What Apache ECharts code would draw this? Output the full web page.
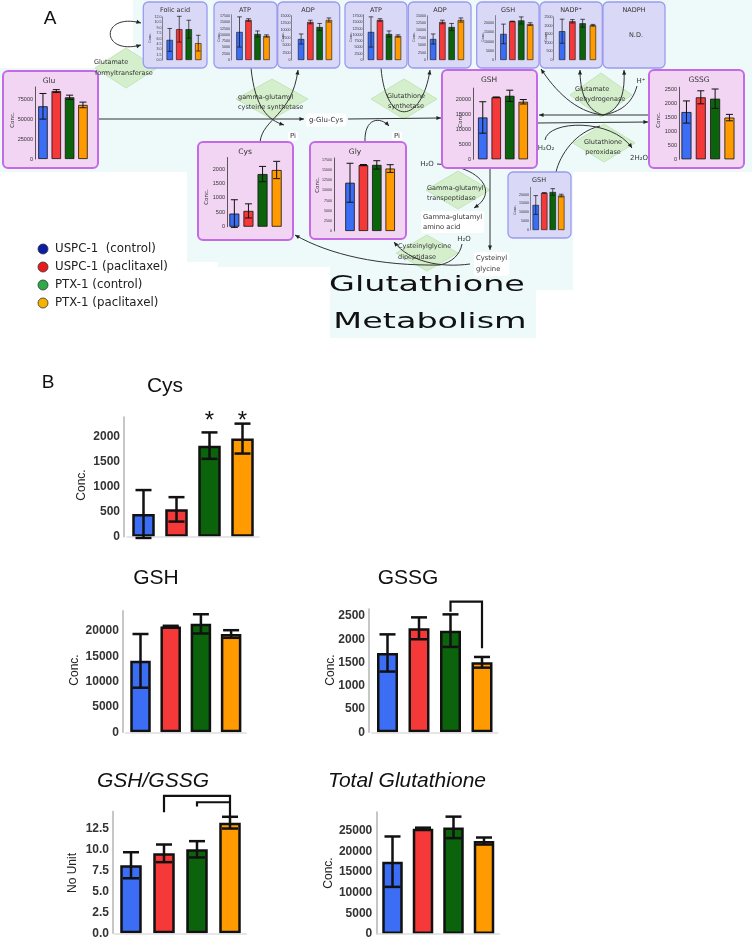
<!DOCTYPE html>
<html><head><meta charset="utf-8">
<script src="https://cdn.jsdelivr.net/npm/echarts@6/dist/echarts.min.js"></script>
<style>html,body{margin:0;padding:0;background:#fff}#c{width:752px;height:939px}</style>
</head><body><div id="c"></div>
<script>
// ---------- data ----------
const groups = ['USPC-1  (control)', 'USPC-1 (paclitaxel)', 'PTX-1 (control)', 'PTX-1 (paclitaxel)'];
const cysMean = [455, 548, 1826, 1967];
const cysSd = [480, 245, 265, 300];
const gshMean = [14100, 20900, 21400, 19400];
const gshSd = [5300, 120, 1900, 750];
const gssgMean = [1705, 2235, 2185, 1504];
const gssgSd = [400, 235, 350, 115];
const ratioMean = [8.1, 9.52, 10.0, 13.17];
const ratioSd = [1.55, 1.05, 0.97, 0.7];
const totalMean = [17500, 25480, 25800, 22500];
const totalSd = [6100, 250, 2600, 850];
const gluMean = [65900, 84900, 77100, 67600];
const gluSd = [16000, 1800, 2700, 3500];
const glyMean = [11900, 16250, 16300, 15400];
const glySd = [4800, 150, 1030, 950];
const folicMean = [5.6, 8.6, 8.6, 4.7];
const folicSd = [3.2, 3.6, 2.5, 2.2];
const atpMean = [11140, 15900, 10340, 9545];
const atpSd = [6000, 500, 1200, 450];
const adpMean = [7110, 12870, 11170, 13540];
const adpSd = [1700, 600, 1200, 700];
const nadpMean = [1674, 2250, 2136, 2020];
const nadpSd = [700, 100, 230, 50];
const gssgBrackets = [[2, 2593, 2808, 3, 1805]];
const ratioBrackets = [[1, 14.4, 16.35, 3, 13.9], [2, 15.1, 15.6, 3, 15.6]];
const cysStarIdx = [2, 3];
const cysStarLevel = 2440;

const barColors = ['#3b6ef5', '#f53838', '#0b630b', '#ff9b00'];
const legendColors = ['#0c1ca6', '#e81c1c', '#2eaa48', '#f5b300'];

// ---------- chart builder ----------
const grids = [], xAxes = [], yAxes = [], series = [];
function errRender(cap, lw) {
  return function (params, api) {
    const i = api.value(0);
    const t = api.coord([i, api.value(2)]);
    const b = api.coord([i, api.value(1)]);
    const st = () => ({ stroke: '#111', lineWidth: lw });
    return { type: 'group', children: [
      { type: 'line', shape: { x1: t[0], y1: t[1], x2: b[0], y2: b[1] }, style: st() },
      { type: 'line', shape: { x1: t[0] - cap, y1: t[1], x2: t[0] + cap, y2: t[1] }, style: st() },
      { type: 'line', shape: { x1: b[0] - cap, y1: b[1], x2: b[0] + cap, y2: b[1] }, style: st() }
    ] };
  };
}
const kinds = {
  pink: { fs: 5.5, bold: false, axisColor: '#333', axisWidth: 0.8, margin: 2, bw: 0.8, cap: 3.5, elw: 1, barW: 9.5, xLine: false, ff: 'Liberation Sans' },
  lav: { fs: 3.6, bold: false, axisColor: '#444', axisWidth: 0.6, margin: 1, bw: 0.6, cap: 2.3, elw: 0.7, barW: 6.4, xLine: false, ff: 'Liberation Sans' },
  big: { fs: 12, bold: true, axisColor: '#b5b5b5', axisWidth: 1.5, margin: 4, bw: 2.5, cap: 8, elw: 2.5, barW: 21, xLine: true, ff: 'Liberation Sans' }
};
function addChart(c) {
  const k = kinds[c.kind];
  const gi = grids.length;
  grids.push({ left: c.left, top: c.top, width: c.width, height: c.height, containLabel: false, outerBoundsMode: 'none' });
  xAxes.push({ type: 'category', gridIndex: gi, data: groups, z: 3,
    axisLine: { show: k.xLine, lineStyle: { color: '#dedede', width: 1.5 } },
    axisTick: { show: false }, axisLabel: { show: false }, splitLine: { show: false } });
  const showMax = Math.abs(c.max / c.interval - Math.round(c.max / c.interval)) < 1e-9;
  yAxes.push({ type: 'value', gridIndex: gi, min: 0, max: c.max, interval: c.interval, offset: c.offset || 0, z: 3,
    splitLine: { show: false }, axisTick: { show: false },
    axisLine: { show: true, lineStyle: { color: k.axisColor, width: k.axisWidth } },
    axisLabel: { fontSize: c.fs || k.fs, fontWeight: k.bold ? 'bold' : 'normal', color: '#333', fontFamily: k.ff,
      margin: k.margin, showMaxLabel: showMax, showMinLabel: true, hideOverlap: false,
      formatter: c.dec ? (v) => v.toFixed(c.dec) : (v) => String(v) } });
  series.push({ type: 'bar', xAxisIndex: gi, yAxisIndex: gi, barWidth: c.barW || k.barW, z: 2,
    data: c.mean.map((v, i) => ({ value: v, itemStyle: { color: barColors[i] } })),
    itemStyle: { borderColor: '#111', borderWidth: k.bw } });
  series.push({ type: 'custom', xAxisIndex: gi, yAxisIndex: gi, z: 4, clip: false,
    encode: { x: 0, y: [1, 2] },
    data: c.mean.map((v, i) => [i, v - c.sd[i], v + c.sd[i]]),
    renderItem: errRender(k.cap, k.elw) });
  return gi;
}
function addBrackets(gi, data, lw) {
  series.push({ type: 'custom', xAxisIndex: gi, yAxisIndex: gi, z: 4, clip: false,
    encode: { x: 0, y: 1 }, data: data,
    renderItem: (p, api) => {
      const a = api.coord([api.value(0), api.value(1)]);
      const b = api.coord([api.value(0), api.value(2)]);
      const c = api.coord([api.value(3), api.value(2)]);
      const d = api.coord([api.value(3), api.value(4)]);
      return { type: 'polyline', shape: { points: [a, b, c, d] }, style: { stroke: '#111', lineWidth: lw, fill: 'none' } };
    } });
}

// panel A - pink
addChart({ kind: 'pink', mean: gluMean, sd: gluSd, left: 36.3, top: 87, width: 53.3, height: 72, max: 90000, interval: 25000, offset: 1.3 });
addChart({ kind: 'pink', mean: cysMean, sd: cysSd, left: 227.3, top: 157.5, width: 56.4, height: 69.2, max: 2400, interval: 500, offset: 0.3, barW: 10 });
addChart({ kind: 'pink', mean: glyMean, sd: glySd, left: 343.3, top: 158, width: 53.6, height: 73, max: 18000, interval: 2500, offset: 9.3, fs: 3.6 });
addChart({ kind: 'pink', mean: gshMean, sd: gshSd, left: 476, top: 88.1, width: 54, height: 71.2, max: 24000, interval: 5000, offset: 3 });
addChart({ kind: 'pink', mean: gssgMean, sd: gssgSd, left: 679.3, top: 87.2, width: 57.3, height: 72.1, max: 2600, interval: 500, offset: 0.3, barW: 10 });
// panel A - lavender
addChart({ kind: 'lav', mean: folicMean, sd: folicSd, left: 165, top: 17, width: 38, height: 43, max: 12, interval: 1.5, offset: 2.5, dec: 1 });
addChart({ kind: 'lav', mean: atpMean, sd: atpSd, left: 235, top: 14.7, width: 36, height: 45.3, max: 18000, interval: 2500, offset: 4 });
addChart({ kind: 'lav', mean: adpMean, sd: adpSd, left: 296.5, top: 15.7, width: 37, height: 44.3, max: 15000, interval: 2500, offset: 5 });
addChart({ kind: 'lav', mean: atpMean, sd: atpSd, left: 366.5, top: 14.7, width: 36, height: 45.3, max: 18000, interval: 2500, offset: 3 });
addChart({ kind: 'lav', mean: adpMean, sd: adpSd, left: 428.5, top: 15.7, width: 37, height: 44.3, max: 15000, interval: 2500, offset: 1.5 });
addChart({ kind: 'lav', mean: gshMean, sd: gshSd, left: 499, top: 15.6, width: 35.6, height: 44.4, max: 24000, interval: 5000, offset: 4 });
addChart({ kind: 'lav', mean: nadpMean, sd: nadpSd, left: 557, top: 17, width: 41, height: 43, max: 2500, interval: 500, offset: 3.5 });
addChart({ kind: 'lav', mean: gshMean, sd: gshSd, left: 531.5, top: 187.4, width: 34, height: 42.6, max: 24000, interval: 5000, offset: 1.5 });
// panel B
const gCys = addChart({ kind: 'big', mean: cysMean, sd: cysSd, left: 127, top: 417, width: 132, height: 119.7, max: 2400, interval: 500, offset: 3, barW: 22.5 });
addChart({ kind: 'big', mean: gshMean, sd: gshSd, left: 125.4, top: 610.7, width: 120.8, height: 121.6, max: 24000, interval: 5000, offset: 2.5, barW: 20.5 });
const gGssg = addChart({ kind: 'big', mean: gssgMean, sd: gssgSd, left: 371.75, top: 609, width: 126, height: 123.3, max: 2650, interval: 500, offset: 2.75, barW: 21 });
const gRatio = addChart({ kind: 'big', mean: ratioMean, sd: ratioSd, left: 114.5, top: 811.5, width: 132, height: 121.8, max: 14.5, interval: 2.5, offset: 1.5, barW: 21.5, dec: 1 });
addChart({ kind: 'big', mean: totalMean, sd: totalSd, left: 377.25, top: 812.1, width: 122, height: 121.9, max: 29500, interval: 5000, offset: 1, barW: 20.5 });
addBrackets(gGssg, gssgBrackets, 2.2);
addBrackets(gRatio, ratioBrackets, 2.2);
series.push({ type: 'custom', xAxisIndex: gCys, yAxisIndex: gCys, z: 4, clip: false,
  encode: { x: 0, y: 1 }, data: cysStarIdx.map(i => [i, cysStarLevel]),
  renderItem: (p, api) => {
    const pt = api.coord([api.value(0), api.value(1)]);
    return { type: 'text', x: pt[0], y: pt[1] + 6, style: { text: '*', fontSize: 24, fontFamily: 'Liberation Sans', fill: '#111', align: 'center', verticalAlign: 'middle' } };
  } });

// ---------- diagram graphics ----------
const BG = '#eefafa';
const G = [];
G.push({ type: 'rect', z: 0, shape: { x: 133, y: 0, width: 619, height: 70 }, style: { fill: BG } });
G.push({ type: 'rect', z: 0, shape: { x: 0, y: 68, width: 752, height: 104 }, style: { fill: BG } });
G.push({ type: 'polygon', z: 0, shape: { points: [[187, 172], [573, 172], [573, 290], [536, 290], [536, 338], [330, 338], [330, 267], [218, 267], [218, 262], [187, 262]] }, style: { fill: BG } });

function diamond(cx, cy, w, h) {
  return { type: 'polygon', z: 0.5, shape: { points: [[cx, cy - h / 2], [cx + w / 2, cy], [cx, cy + h / 2], [cx - w / 2, cy]] }, style: { fill: '#d5efcd', stroke: '#c3e6b9', lineWidth: 1 } };
}
G.push(diamond(126, 68, 62, 40), diamond(272, 99, 72, 40), diamond(404, 99, 66, 40), diamond(601, 95, 62, 44),
  diamond(604, 143, 62, 38), diamond(458, 190, 64, 38), diamond(427, 253, 62, 36));

function head(x, y, ang, s) {
  s = s || 5;
  const a1 = ang + Math.PI - 0.42, a2 = ang + Math.PI + 0.42;
  return { type: 'polygon', z: 1, shape: { points: [[x, y], [x + s * Math.cos(a1), y + s * Math.sin(a1)], [x + s * Math.cos(a2), y + s * Math.sin(a2)]] }, style: { fill: '#222' } };
}
function curve(x1, y1, c1x, c1y, c2x, c2y, x2, y2, arrowEnd, arrowStart) {
  G.push({ type: 'bezierCurve', z: 1, shape: { x1: x1, y1: y1, cpx1: c1x, cpy1: c1y, cpx2: c2x, cpy2: c2y, x2: x2, y2: y2 }, style: { stroke: '#333', lineWidth: 1, fill: 'none' } });
  if (arrowEnd) G.push(head(x2, y2, Math.atan2(y2 - c2y, x2 - c2x)));
  if (arrowStart) G.push(head(x1, y1, Math.atan2(y1 - c1y, x1 - c1x)));
}
function seg(x1, y1, x2, y2, arrow) {
  G.push({ type: 'line', z: 1, shape: { x1: x1, y1: y1, x2: x2, y2: y2 }, style: { stroke: '#333', lineWidth: 1 } });
  if (arrow) G.push(head(x2, y2, Math.atan2(y2 - y1, x2 - x1)));
}
curve(141, 23, 100, 12, 100, 56, 141, 45, true, true);
seg(98, 119, 304, 119, true);
seg(348, 119, 441, 118, true);
curve(251, 68, 255, 108, 268, 120, 284, 125, true);
curve(260, 142, 263, 118, 292, 116, 298, 70, true);
curve(381, 68, 386, 128, 422, 124, 430, 70, true);
curve(365, 142, 364, 118, 380, 116, 389, 126, true);
seg(649, 115, 539, 115, true);
seg(537, 123, 648, 122, true);
curve(603, 115, 575, 112, 555, 90, 541, 69, true);
curve(603, 115, 585, 110, 580, 90, 580, 70, true);
curve(603, 115, 622, 110, 625, 90, 624, 70, true);
curve(637, 86, 632, 104, 620, 112, 603, 115, false);
curve(545, 140, 548, 120, 612, 118, 632, 148, true);
curve(556, 172, 560, 155, 575, 132, 600, 126, false);
seg(490, 168, 490, 250, true);
curve(437, 164, 480, 166, 500, 192, 474, 208, true);
curve(470, 264, 440, 268, 410, 262, 394, 242, true);
curve(440, 265, 380, 266, 330, 255, 295, 235, true);
curve(462, 244, 460, 255, 452, 262, 440, 265, false);

function box(x, y, w, h, kind) {
  return { type: 'rect', z: 1.5, shape: { x: x, y: y, width: w, height: h, r: 5 },
    style: kind === 'pink' ? { fill: '#f2d5f2', stroke: '#c46ae6', lineWidth: 2 } : { fill: '#d9d9f7', stroke: '#9a9af0', lineWidth: 1.3 } };
}
G.push(box(3, 71, 95, 97, 'pink'), box(198, 142, 95, 98, 'pink'), box(310, 142, 96, 97, 'pink'),
  box(442, 70, 95, 98, 'pink'), box(649, 70, 95, 98, 'pink'));
G.push(box(143.3, 2, 63.7, 66), box(214, 2, 63, 66), box(277.7, 2, 62, 66), box(345, 2, 62, 66),
  box(408.3, 2, 62.7, 66), box(476.7, 2, 62.3, 66), box(540, 2, 62.3, 66), box(603, 2, 62, 66), box(508, 172, 63, 66));

function txt(x, y, text, o) {
  o = o || {};
  const st = { text: text, fontSize: o.fs || 6.5, fontFamily: o.ff || 'DejaVu Sans', fontStyle: o.it ? 'italic' : 'normal',
    fontWeight: o.fw || 'normal', fill: o.c || '#333', align: o.al || 'center', verticalAlign: o.va || 'middle' };
  if (o.lh) st.lineHeight = o.lh;
  if (o.bg) { st.backgroundColor = o.bg; st.padding = o.pad || [1, 2]; st.borderRadius = 3; }
  const el = { type: 'text', z: 5, x: x, y: y, style: st };
  if (o.rot) el.rotation = o.rot;
  if (o.sx) el.scaleX = o.sx;
  G.push(el);
}
const R90 = Math.PI / 2;
// panel letters
txt(50, 19, 'A', { fs: 19, ff: 'Liberation Sans', c: '#111' });
txt(48, 383, 'B', { fs: 19, ff: 'Liberation Sans', c: '#111' });
// box titles
[[49, 81, 'Glu'], [245, 152, 'Cys'], [355, 152, 'Gly'], [489, 80, 'GSH'], [699, 80, 'GSSG']].forEach(a => txt(a[0], a[1], a[2], { fs: 7.5 }));
[[175, 10, 'Folic acid'], [245, 10, 'ATP'], [308, 10, 'ADP'], [376, 10, 'ATP'], [440, 10, 'ADP'], [508, 10, 'GSH'], [571, 10, 'NADP⁺'], [634, 10, 'NADPH'], [539, 180, 'GSH']]
  .forEach(a => txt(a[0], a[1], a[2], { fs: 6.5 }));
txt(636, 35, 'N.D.', { fs: 6.5 });
// Conc. labels in boxes
[[13, 120], [207, 197], [318, 185], [461, 120], [659, 120]].forEach(a => txt(a[0], a[1], 'Conc.', { fs: 5.5, rot: R90 }));
[[150, 38], [219, 37], [283, 37], [351, 37], [414, 37], [483, 37], [546, 37], [515, 210]].forEach(a => txt(a[0], a[1], 'Conc.', { fs: 3.5, rot: R90 }));
// enzyme texts
txt(94, 62, 'Glutamate', { al: 'left' }); txt(95, 73, 'formyltransferase', { al: 'left' });
txt(238, 97, 'gamma-glutamyl', { al: 'left' }); txt(238, 107, 'cysteine synthetase', { al: 'left' });
txt(406, 96, 'Glutathione'); txt(406, 106, 'synthetase');
txt(575, 89, 'Glutamate', { al: 'left' }); txt(575, 99, 'dehydrogenase', { al: 'left' });
txt(603, 142, 'Glutathione'); txt(603, 152, 'peroxidase');
txt(427, 188, 'Gamma-glutamyl', { al: 'left' }); txt(427, 198, 'transpeptidase', { al: 'left' });
txt(398, 246, 'Cysteinylglycine', { al: 'left' }); txt(398, 257, 'dipeptidase', { al: 'left' });
// metabolite labels
txt(326, 120, 'g-Glu-Cys', { fs: 7, bg: '#fff', pad: [3, 3] });
txt(293, 136, 'Pi', { fs: 7, bg: '#fff' });
txt(397, 136, 'Pi', { fs: 7, bg: '#fff' });
txt(641, 81, 'H⁺', { fs: 7 });
txt(546, 148, 'H₂O₂', { fs: 7 });
txt(639, 158, '2H₂O', { fs: 7 });
txt(427, 164, 'H₂O', { fs: 7 });
txt(464, 239, 'H₂O', { fs: 7 });
txt(421, 222, 'Gamma-glutamyl\namino acid', { fs: 6.8, al: 'left', lh: 10, bg: '#fff' });
txt(474, 264, 'Cysteinyl\nglycine', { fs: 6.8, al: 'left', lh: 11, bg: '#fff' });
// big title
txt(427, 285, 'Glutathione', { fs: 22, c: '#111', sx: 1.52 });
txt(430, 322, 'Metabolism', { fs: 22, c: '#111', sx: 1.52 });
// legend
groups.forEach((name, i) => {
  const y = 249 + i * 18;
  G.push({ type: 'circle', z: 5, shape: { cx: 43, cy: y, r: 5 }, style: { fill: legendColors[i], stroke: '#333', lineWidth: 0.8 } });
  txt(55, y, name, { fs: 11.8, al: 'left', c: '#222' });
});
// panel B titles and axis names
txt(165, 386, 'Cys', { fs: 21, ff: 'Liberation Sans', c: '#111' });
txt(156, 578, 'GSH', { fs: 21, ff: 'Liberation Sans', c: '#111' });
txt(408, 578, 'GSSG', { fs: 21, ff: 'Liberation Sans', c: '#111' });
txt(153, 781, 'GSH/GSSG', { fs: 21, ff: 'Liberation Sans', c: '#111', it: true });
txt(407, 781, 'Total Glutathione', { fs: 21, ff: 'Liberation Sans', c: '#111', it: true });
txt(82, 485, 'Conc.', { fs: 12, ff: 'Liberation Sans', c: '#222', rot: R90 });
txt(75, 670, 'Conc.', { fs: 12, ff: 'Liberation Sans', c: '#222', rot: R90 });
txt(331, 670, 'Conc.', { fs: 12, ff: 'Liberation Sans', c: '#222', rot: R90 });
txt(73, 873, 'No Unit', { fs: 12, ff: 'Liberation Sans', c: '#222', rot: R90 });
txt(329, 873, 'Conc.', { fs: 12, ff: 'Liberation Sans', c: '#222', rot: R90 });

const chart = echarts.init(document.getElementById('c'), null, { renderer: 'canvas' });
chart.setOption({
  animation: false,
  backgroundColor: '#fff',
  grid: grids, xAxis: xAxes, yAxis: yAxes, series: series,
  graphic: { elements: G }
});
</script></body></html>
